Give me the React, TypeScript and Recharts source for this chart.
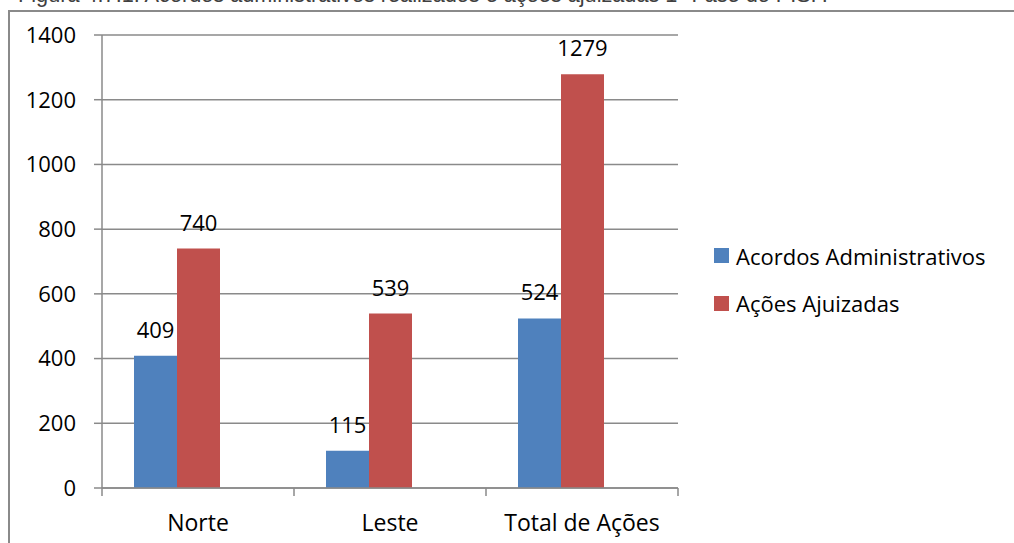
import { BarChart, Bar, XAxis, YAxis, CartesianGrid, LabelList } from "recharts";

const categories = ["Norte", "Leste", "Total de Ações"];
const acordosAdministrativos = [409, 115, 524];
const acoesAjuizadas = [740, 539, 1279];
const yTicks = [0, 200, 400, 600, 800, 1000, 1200, 1400];

const series = [
  { key: "acordos", label: "Acordos Administrativos", color: "#4F81BD" },
  { key: "acoes", label: "Ações Ajuizadas", color: "#C0504D" },
];

// the source chart keeps an empty third slot in each cluster
const data = categories.map((name, i) => ({
  name,
  acordos: acordosAdministrativos[i],
  acoes: acoesAjuizadas[i],
  vazio: null,
}));

const FONT = "'Open Sans', sans-serif";
const AXIS = "#8a8a8a";
const PLOT_W = 576;

// label at the category centre, tick marks on the category edges
function CategoryTick(props: any) {
  const { x, y, payload, index } = props;
  const count = props.visibleTicksCount || categories.length;
  const half = (Number(props.width) || PLOT_W) / count / 2;
  const y0 = y - 8;
  return (
    <g>
      <line x1={x - half} x2={x - half} y1={y0} y2={y0 + 8} stroke={AXIS} strokeWidth={1.5} />
      {index === count - 1 && (
        <line x1={x + half} x2={x + half} y1={y0} y2={y0 + 8} stroke={AXIS} strokeWidth={1.5} />
      )}
      <text x={x} y={y + 35} textAnchor="middle" fontFamily={FONT} fontSize={23} fill="#000">
        {payload.value}
      </text>
    </g>
  );
}

function LegendBox() {
  return (
    <div
      style={{
        position: "absolute",
        left: 714,
        top: 232,
        fontFamily: FONT,
        fontSize: 22,
        color: "#000",
        whiteSpace: "nowrap",
      }}
    >
      {series.map((s) => (
        <div key={s.key} style={{ display: "flex", alignItems: "center", height: 47.5 }}>
          <span style={{ width: 15, height: 15, background: s.color, marginRight: 7 }} />
          <span>{s.label}</span>
        </div>
      ))}
    </div>
  );
}

export default function App() {
  return (
    <div
      style={{
        position: "fixed",
        left: 0,
        top: 0,
        width: 1014,
        height: 543,
        overflow: "hidden",
        background: "#fff",
      }}
    >
      <div
        style={{
          position: "absolute",
          left: 18,
          top: -15,
          lineHeight: "20px",
          fontFamily: "'Liberation Sans', Arial, sans-serif",
          fontSize: 21.7,
          color: "#404040",
          whiteSpace: "nowrap",
        }}
      >
        Figura 4.7.1: Acordos administrativos realizados e ações ajuizadas 1ª Fase do PISF.
      </div>
      <div
        style={{
          position: "absolute",
          left: 8,
          top: 10,
          width: 1100,
          height: 600,
          border: `2px solid ${AXIS}`,
        }}
      />
      <div style={{ position: "absolute", left: 0, top: 0 }}>
        <BarChart
          width={1014}
          height={543}
          data={data}
          margin={{ top: 35, right: 336, bottom: 0, left: 42 }}
          barCategoryGap={32}
          barGap={0}
        >
          <CartesianGrid vertical={false} stroke={AXIS} strokeWidth={1.5} />
          <XAxis
            dataKey="name"
            interval={0}
            height={55}
            tickSize={8}
            tickMargin={0}
            tickLine={false}
            axisLine={{ stroke: AXIS, strokeWidth: 1.5 }}
            tick={<CategoryTick />}
          />
          <YAxis
            width={60}
            domain={[0, 1400]}
            ticks={yTicks}
            interval={0}
            tickSize={8}
            tickMargin={18}
            tickLine={{ stroke: AXIS, strokeWidth: 1.5 }}
            axisLine={{ stroke: AXIS, strokeWidth: 1.5 }}
            tick={{ fill: "#000", fontFamily: FONT, fontSize: 22 }}
          />
          {series.map((s) => (
            <Bar
              key={s.key}
              dataKey={s.key}
              name={s.label}
              fill={s.color}
              isAnimationActive={false}
            >
              <LabelList
                dataKey={s.key}
                position="top"
                offset={18}
                fill="#000"
                fontFamily={FONT}
                fontSize={22}
              />
            </Bar>
          ))}
          <Bar dataKey="vazio" legendType="none" fill="none" isAnimationActive={false} />
        </BarChart>
      </div>
      <LegendBox />
    </div>
  );
}
